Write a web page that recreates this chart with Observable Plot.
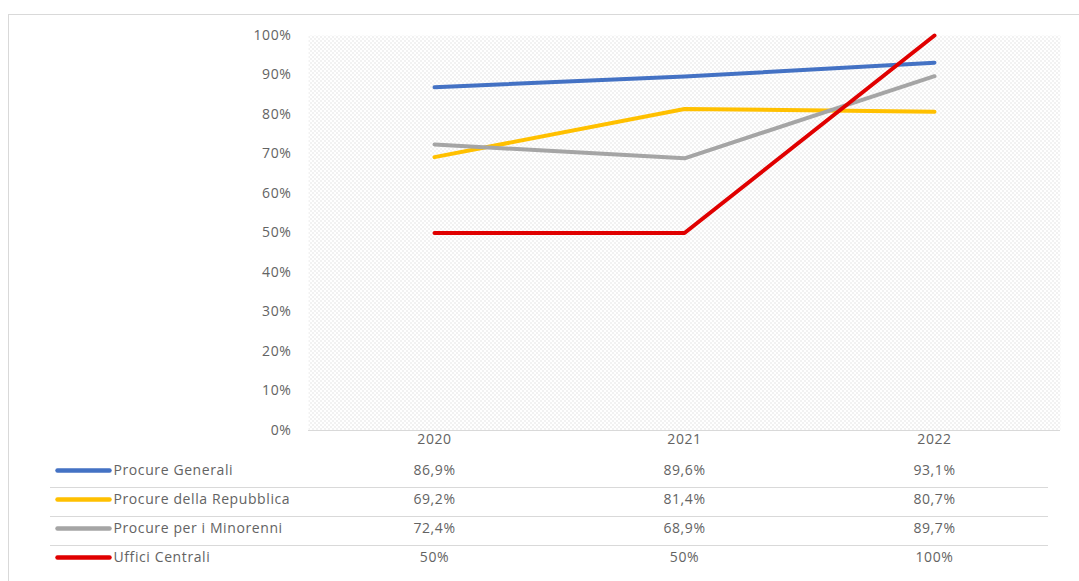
<!DOCTYPE html>
<html>
<head>
<meta charset="utf-8">
<script src="https://cdn.jsdelivr.net/npm/d3@7"></script>
<script src="https://cdn.jsdelivr.net/npm/@observablehq/plot@0.6"></script>
<style>
  html, body { margin: 0; padding: 0; background: #fff; }
  #wrap { position: relative; width: 1079px; height: 581px; overflow: hidden; }
  #border { position: absolute; left: 8px; top: 14px; width: 1100px; height: 600px; border: 1px solid #d9d9d9; box-sizing: border-box; }
  #chart svg { display: block; }
  #chart { position: absolute; left: 0; top: 0; }
</style>
</head>
<body>
<div id="wrap"><div id="border"></div><div id="chart"></div></div>
<script>
const years = ["2020", "2021", "2022"];
const series = ["Procure Generali", "Procure della Repubblica", "Procure per i Minorenni", "Uffici Centrali"];
const colors = ["#4472C4", "#FFC000", "#A5A5A5", "#E00000"];
const procureGenerali = [86.9, 89.6, 93.1];
const procureRepubblica = [69.2, 81.4, 80.7];
const procureMinorenni = [72.4, 68.9, 89.7];
const ufficiCentrali = [50, 50, 100];
const yTicks = [0, 10, 20, 30, 40, 50, 60, 70, 80, 90, 100];

const valuesBySeries = [procureGenerali, procureRepubblica, procureMinorenni, ufficiCentrali];
const data = series.flatMap((s, i) => years.map((y, j) => ({series: s, year: y, value: valuesBySeries[i][j]})));
const fmt = v => (Number.isInteger(v) ? String(v) : v.toFixed(1).replace(".", ",")) + "%";

const font = {fontFamily: "'Open Sans', sans-serif", fontSize: "14px", letterSpacing: "0.6px", color: "#636363", background: "transparent"};

const main = Plot.plot({
  width: 1079, height: 455,
  marginLeft: 308, marginRight: 19, marginTop: 35, marginBottom: 25,
  style: font,
  x: {type: "band", domain: years, padding: 0, label: null, tickSize: 0, tickPadding: 4},
  y: {domain: [0, 100], ticks: yTicks, tickFormat: d => d + "%", label: null, tickSize: 0, tickPadding: 17},
  color: {domain: series, range: colors},
  marks: [
    Plot.frame({fill: "url(#dotpat)", stroke: null}),
    Plot.ruleY([0], {stroke: "#d9d9d9", strokeWidth: 1}),
    Plot.line(data, {x: "year", y: "value", z: "series", stroke: "series", strokeWidth: 4, strokeLinecap: "round"})
  ]
});

// dotted background pattern
const svg = d3.select(main);
const defs = svg.insert("defs", ":first-child");
const pat = defs.append("pattern").attr("id", "dotpat").attr("width", 4).attr("height", 4).attr("patternUnits", "userSpaceOnUse");
pat.append("rect").attr("width", 4).attr("height", 4).attr("fill", "#ffffff");
pat.append("rect").attr("x", 0).attr("y", 0).attr("width", 1).attr("height", 1).attr("fill", "#cccccc");
pat.append("rect").attr("x", 2).attr("y", 2).attr("width", 1).attr("height", 1).attr("fill", "#cccccc");

const lineSymbol = {draw(context, size) { context.moveTo(-26, 0); context.lineTo(26, 0); }};

const table = Plot.plot({
  width: 1079, height: 126,
  marginLeft: 50, marginRight: 31, marginTop: 3, marginBottom: 7,
  style: font,
  x: {type: "band", domain: years, range: [308, 1060], padding: 0, axis: null},
  y: {type: "band", domain: series, padding: 0, axis: null},
  color: {domain: series, range: colors},
  marks: [
    Plot.ruleY(series.slice(1), {y: d => d, stroke: "#d9d9d9", strokeWidth: 1, dy: -14.5}),
    Plot.dot(series, {y: d => d, frameAnchor: "left", dx: 33, dy: -2.5, symbol: lineSymbol, fill: "none", stroke: d => d, strokeWidth: 4.5, strokeLinecap: "round"}),
    Plot.text(series, {y: d => d, text: d => d, frameAnchor: "left", dx: 63, dy: -2.5, textAnchor: "start", fill: "#636363"}),
    Plot.text(data, {x: "year", y: "series", text: d => fmt(d.value), dy: -2.5, fill: "#636363"})
  ]
});

document.getElementById("chart").append(main, table);
</script>
</body>
</html>
